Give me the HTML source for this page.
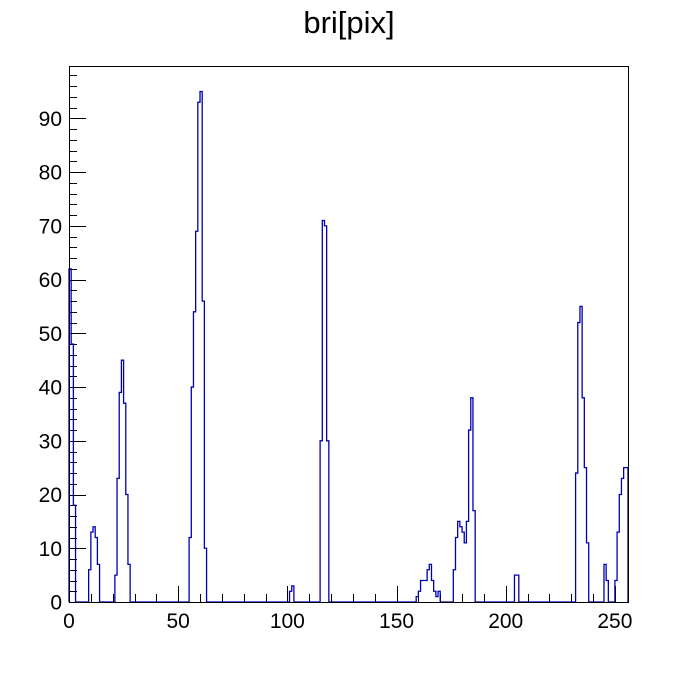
<!DOCTYPE html>
<html><head><meta charset="utf-8"><style>
html,body{margin:0;padding:0;background:#fff;}
svg text{font-family:"Liberation Sans",sans-serif;}
</style></head><body>
<svg id="chart" width="698" height="669" xmlns="http://www.w3.org/2000/svg">
<rect width="698" height="669" fill="#fff"/>
<text x="349" y="33" font-size="31" text-anchor="middle">bri[pix]</text>
<g id="axes"></g>
<path id="hist" fill="none" stroke="#0000b4" stroke-width="1.3"/>
<rect x="69.5" y="66.5" width="559" height="536" fill="none" stroke="#000" stroke-width="1"/>
</svg>
<script>
const binIndex = [0,1,2, 9,10,11,12,13, 21,22,23,24,25,26,27, 55,56,57,58,59,60,61,62, 101,102, 115,116,117,118,
  159,160,161,162,163,164,165,166,167,168,169, 176,177,178,179,180,181,182,183,184,185, 204,205,
  232,233,234,235,236,237, 245,246, 250,251,252,253,254,255];
const binCount = [62,48,18, 6,13,14,12,7, 5,23,39,45,37,20,7, 12,40,54,69,93,95,56,10, 2,3, 30,71,70,30,
  1,2,4,4,4,6,7,4,2,1,2, 6,12,15,14,13,11,15,32,38,17, 5,5,
  24,52,55,38,25,11, 7,4, 4,13,20,23,25,25];
const xTickLabels = [0,50,100,150,200,250];
const yTickLabels = [0,10,20,30,40,50,60,70,80,90];
const nBins = 256, xMin = 0, xMax = 256, yMax = 99.75;

const L=69, R=628, T=66, B=602;
const xs = v => L + (v - xMin) / (xMax - xMin) * (R - L);
const ys = v => B - v / yMax * (B - T);
const NS = "http://www.w3.org/2000/svg";
const axes = document.getElementById('axes');

const counts = new Array(nBins).fill(0);
binIndex.forEach((b,i)=>{ counts[b] = binCount[i]; });
let d = `M${xs(0)},${ys(0)}`;
for (let k=0;k<nBins;k++){ d += ` V${ys(counts[k]).toFixed(2)} H${xs(k+1).toFixed(2)}`; }
d += ` V${ys(0)}`;
document.getElementById('hist').setAttribute('d', d);

function line(x1,y1,x2,y2,name){
  const l=document.createElementNS(NS,'line');
  l.setAttribute('x1',x1);l.setAttribute('y1',y1);l.setAttribute('x2',x2);l.setAttribute('y2',y2);
  l.setAttribute('stroke','#000');l.setAttribute('stroke-width','1');
  
  
  axes.appendChild(l);
}
function label(x,y,txt,anchor,name){
  const t=document.createElementNS(NS,'text');
  t.setAttribute('x',x);t.setAttribute('y',y);t.setAttribute('font-size','21');
  t.setAttribute('text-anchor',anchor);t.textContent=txt;
  
  
  axes.appendChild(t);
}
for (let v=0; v<=xMax; v+=10){
  const x = Math.round(xs(v))+0.5;
  const major = v%50===0;
  line(x,B,x,B-(major?16:8),'x-tick');
}
xTickLabels.forEach(v=>label(xs(v),628,String(v),'middle','x-tick-label'));
for (let v=0; v<=yMax; v+=2){
  const y = Math.round(ys(v))+0.5;
  const major = v%10===0;
  line(L,y,L+(major?17:8),y,'y-tick');
}
yTickLabels.forEach(v=>label(62,ys(v)+7.5,String(v),'end','y-tick-label'));
</script>
</body></html>
